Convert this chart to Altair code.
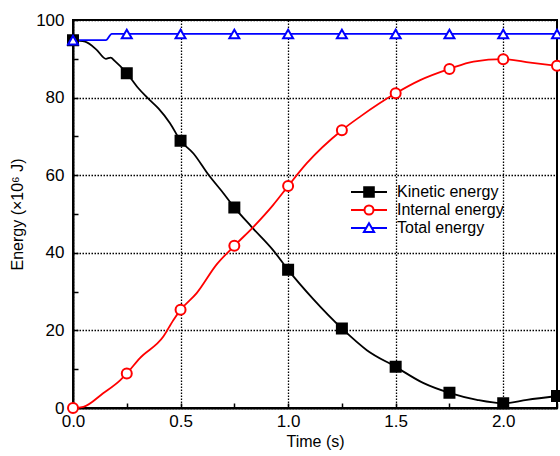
import altair as alt
import pandas as pd

series = ["Kinetic energy", "Internal energy", "Total energy"]
colors = ["#000000", "#FF0000", "#0000FF"]
fills = ["#000000", "#FFFFFF", "#FFFFFF"]

# continuous curves
kin_t = [0, 0.056, 0.11, 0.153, 0.175, 0.195, 0.25, 0.304, 0.343, 0.397, 0.451, 0.5, 0.56, 0.63, 0.7,
         0.75, 0.83, 0.93, 1.0, 1.118, 1.25, 1.366, 1.5, 1.63, 1.75, 1.878, 2.0, 2.11, 2.25]
kin_v = [94.8, 94.4, 92.3, 90.0, 90.3, 89.4, 86.3, 82.4, 80.1, 77.2, 73.4, 68.9, 65.6, 60.1, 55.3,
         51.7, 46.7, 40.7, 35.6, 28.0, 20.5, 14.9, 10.6, 6.4, 3.9, 2.1, 1.2, 2.1, 3.1]
int_t = [0, 0.048, 0.14, 0.22, 0.25, 0.31, 0.42, 0.467, 0.5, 0.575, 0.668, 0.75, 0.839, 0.93, 1.0,
         1.087, 1.25, 1.335, 1.5, 1.614, 1.75, 1.862, 2.0, 2.126, 2.25]
int_v = [0, 0.3, 3.8, 7.2, 8.9, 12.8, 18.4, 22.7, 25.3, 29.6, 37.0, 41.8, 46.7, 52.3, 57.2,
         63.1, 71.6, 75.1, 81.1, 84.5, 87.4, 89.3, 89.9, 89.0, 88.2]
tot_t = [0, 0.153, 0.18, 2.25]
tot_v = [94.8, 94.8, 96.4, 96.4]

# markers every 0.25 s
mk_t = [0, 0.25, 0.5, 0.75, 1.0, 1.25, 1.5, 1.75, 2.0, 2.25]
mk_kin = [94.8, 86.3, 68.9, 51.7, 35.6, 20.5, 10.6, 3.9, 1.2, 3.1]
mk_int = [0, 8.9, 25.3, 41.8, 57.2, 71.6, 81.1, 87.4, 89.9, 88.2]
mk_tot = [94.8, 96.4, 96.4, 96.4, 96.4, 96.4, 96.4, 96.4, 96.4, 96.4]

x_ticks = [0, 0.25, 0.5, 0.75, 1.0, 1.25, 1.5, 1.75, 2.0, 2.25]
y_ticks = [0, 10, 20, 30, 40, 50, 60, 70, 80, 90, 100]

lines = pd.concat([
    pd.DataFrame({"series": series[0], "t": kin_t, "v": kin_v}),
    pd.DataFrame({"series": series[1], "t": int_t, "v": int_v}),
    pd.DataFrame({"series": series[2], "t": tot_t, "v": tot_v}),
])
markers = pd.concat([
    pd.DataFrame({"series": series[0], "t": mk_t, "v": mk_kin}),
    pd.DataFrame({"series": series[1], "t": mk_t, "v": mk_int}),
    pd.DataFrame({"series": series[2], "t": mk_t, "v": mk_tot}),
])

FONT = "Liberation Sans"
xs = alt.Scale(domain=[0, 2.25], nice=False, zero=False)
ys = alt.Scale(domain=[0, 100], nice=False)

x_main = alt.X("t:Q", scale=xs,
               axis=alt.Axis(title="Time (s)", values=x_ticks, ticks=False, labelFlush=False,
                             labelExpr="round(datum.value*4) % 2 == 0 ? format(datum.value, '.1f') : ''",
                             gridOpacity={"condition": {"test": "round(datum.value*4) % 2 == 0", "value": 1}, "value": 0},
                             labelPadding=5, titlePadding=4))
y_main = alt.Y("v:Q", scale=ys,
               axis=alt.Axis(title="Energy (×10⁶ J)", values=y_ticks, ticks=False, labelFlush=False,
                             labelExpr="datum.value % 20 == 0 ? datum.value : ''",
                             gridOpacity={"condition": {"test": "datum.value % 20 == 0", "value": 1}, "value": 0},
                             labelPadding=9, titlePadding=10))

line_layer = alt.Chart(lines).mark_line(interpolate="monotone", strokeWidth=1.8).encode(
    x=x_main, y=y_main,
    color=alt.Color("series:N", scale=alt.Scale(domain=series, range=colors), legend=None),
    detail="series:N",
)

# inward ticks: an axis-only layer displaced into the plot
tick_layer = alt.Chart(lines).mark_line(opacity=0).encode(
    x=alt.X("t:Q", scale=xs, axis=alt.Axis(orient="bottom", values=x_ticks, offset=-5, tickSize=5,
                                           labels=False, domain=False, grid=False, title=None)),
    y=alt.Y("v:Q", scale=ys, axis=alt.Axis(orient="left", values=y_ticks, offset=-5, tickSize=5,
                                           labels=False, domain=False, grid=False, title=None)),
    detail="series:N",
)

marker_layer = alt.Chart(markers).mark_point(size=100, strokeWidth=2, opacity=1).encode(
    x=alt.X("t:Q", axis=None), y=alt.Y("v:Q", axis=None),
    shape=alt.Shape("series:N", scale=alt.Scale(domain=series, range=["square", "circle", "triangle-up"]), legend=None),
    stroke=alt.Stroke("series:N", scale=alt.Scale(domain=series, range=colors), legend=None),
    fill=alt.Fill("series:N", scale=alt.Scale(domain=series, range=fills), legend=None),
)

legend_paths = [
    "M-3,0H3M-0.8,-0.8H0.8V0.8H-0.8Z",
    "M-3,0H-0.75M0.75,0H3M0.75,0A0.75,0.75,0,1,1,-0.75,0A0.75,0.75,0,1,1,0.75,0Z",
    "M-3,0H-0.47M0.47,0H3M0,-0.8L0.85,0.65H-0.85Z",
]
leg = alt.Legend(title=None, orient="none", legendX=288, legendY=164, symbolSize=144,
                 symbolStrokeWidth=2, labelOffset=20, labelFont=FONT, labelFontSize=16,
                 labelColor="black", padding=0, rowPadding=0, symbolOpacity=1)
legend_layer = alt.Chart(markers).transform_filter("false").mark_point(strokeWidth=2, opacity=1).encode(
    x=alt.X("t:Q", axis=None), y=alt.Y("v:Q", axis=None),
    shape=alt.Shape("series:N", scale=alt.Scale(domain=series, range=legend_paths), legend=leg),
    stroke=alt.Stroke("series:N", scale=alt.Scale(domain=series, range=colors), legend=leg),
    fill=alt.Fill("series:N", scale=alt.Scale(domain=series, range=fills), legend=leg),
)

chart = alt.layer(line_layer, tick_layer, marker_layer, legend_layer).resolve_scale(
    shape="independent", stroke="independent", fill="independent"
).resolve_axis(
    x="independent", y="independent"
).properties(
    width=484, height=388,
    autosize=alt.AutoSizeParams(type="none"),
    padding={"left": 73, "top": 20, "right": 3, "bottom": 48},
).configure_view(
    stroke="black", strokeWidth=2
).configure_axis(
    domainColor="black", domainWidth=2, tickColor="black", tickWidth=1.5,
    gridColor="black", gridWidth=1.3, gridDash=[1.5, 1.5],
    labelFont=FONT, labelFontSize=17, labelColor="black",
    titleFont=FONT, titleFontSize=16, titleFontWeight="normal", titleColor="black",
)

chart.save("out.html", embed_options={"renderer": "svg", "actions": False})
